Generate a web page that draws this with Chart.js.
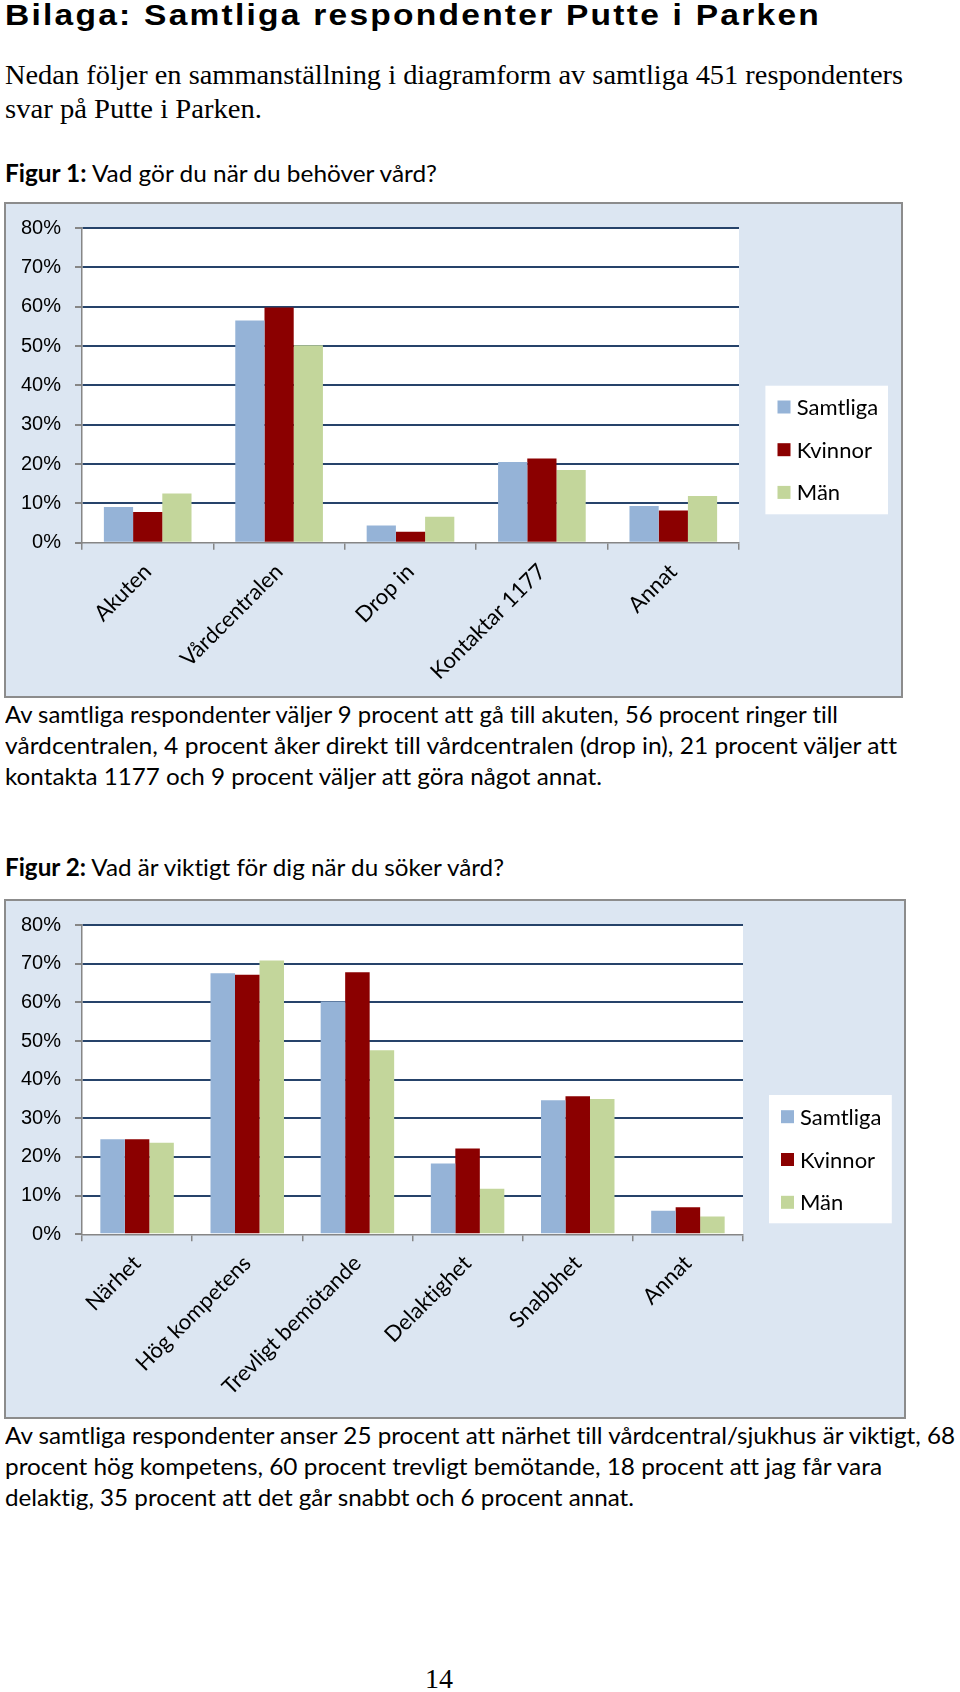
<!DOCTYPE html>
<html>
<head>
<meta charset="utf-8">
<script src="https://cdn.jsdelivr.net/npm/chart.js"></script>
<style>
body { margin:0; background:#fff; width:960px; height:1692px; position:relative; overflow:hidden; font-variant-ligatures:none; }
.t { position:absolute; left:5px; white-space:nowrap; transform-origin:0 0; color:#000; }
.title { font-family:"Liberation Sans"; font-weight:bold; font-size:30px; line-height:30px; letter-spacing:2px; }
.serif { font-family:"Liberation Serif"; font-size:28px; line-height:28px; }
.cal { font-family:Lato; font-size:24px; line-height:24px; }
.frame { position:absolute; background:#DCE6F2; border:2px solid #8c8c8c; box-sizing:border-box; }
canvas { position:absolute; }
</style>
</head>
<body>

<div class="t title" data-w="816" style="top:0px">Bilaga: Samtliga respondenter Putte i Parken</div>
<div class="t serif" data-w="898" style="top:61px">Nedan följer en sammanställning i diagramform av samtliga 451 respondenters</div>
<div class="t serif" data-w="257" style="top:95px">svar på Putte i Parken.</div>
<div class="t cal" data-w="432" style="top:161px"><b>Figur 1:</b> Vad gör du när du behöver vård?</div>

<div class="frame" style="left:4px;top:202px;width:899px;height:496px"></div>
<canvas id="chart1" width="899" height="496" style="left:4px;top:202px"></canvas>

<div class="t cal" data-w="833" style="top:702px">Av samtliga respondenter väljer 9 procent att gå till akuten, 56 procent ringer till</div>
<div class="t cal" data-w="892" style="top:733px">vårdcentralen, 4 procent åker direkt till vårdcentralen (drop in), 21 procent väljer att</div>
<div class="t cal" data-w="597" style="top:764px">kontakta 1177 och 9 procent väljer att göra något annat.</div>

<div class="t cal" data-w="499" style="top:855px"><b>Figur 2:</b> Vad är viktigt för dig när du söker vård?</div>

<div class="frame" style="left:4px;top:899px;width:902px;height:520px"></div>
<canvas id="chart2" width="902" height="520" style="left:4px;top:899px"></canvas>

<div class="t cal" data-w="950" style="top:1423px">Av samtliga respondenter anser 25 procent att närhet till vårdcentral/sjukhus är viktigt, 68</div>
<div class="t cal" data-w="877" style="top:1454px">procent hög kompetens, 60 procent trevligt bemötande, 18 procent att jag får vara</div>
<div class="t cal" data-w="629" style="top:1485px">delaktig, 35 procent att det går snabbt och 6 procent annat.</div>

<div class="t serif" style="top:1665px;left:425px">14</div>

<script>
// figur 1
var categories1 = ['Akuten', 'Vårdcentralen', 'Drop in', 'Kontaktar 1177', 'Annat']
var samtliga1 = [9.1, 56.5, 4.4, 20.5, 9.3]
var kvinnor1 = [7.8, 59.8, 2.8, 21.4, 8.2]
var man1 = [12.5, 50.2, 6.6, 18.5, 11.9]

// figur 2
var categories2 = ['Närhet', 'Hög kompetens', 'Trevligt bemötande', 'Delaktighet', 'Snabbhet', 'Annat']
var samtliga2 = [24.6, 67.5, 60.2, 18.3, 34.7, 6.1]
var kvinnor2 = [24.6, 67.1, 67.8, 22.2, 35.7, 7.0]
var man2 = [23.7, 70.8, 47.6, 11.8, 35.0, 4.6]

var seriesNames = ['Samtliga', 'Kvinnor', 'Män']
var seriesColors = ['#95B3D7', '#8B0000', '#C3D69B']
var yTicks = [0, 10, 20, 30, 40, 50, 60, 70, 80]

var gridBlue = '#26436a'
var axisGray = '#868686'

// squeeze each text line to the width it has in the picture
document.querySelectorAll('.t[data-w]').forEach(el => {
    var w = el.getBoundingClientRect().width
    el.style.transform = 'scaleX(' + (el.dataset.w / w) + ')'
})

var plotBg = {
    id: 'plotBg',
    beforeDraw(chart) {
        var a = chart.chartArea
        chart.ctx.save()
        chart.ctx.fillStyle = '#fff'
        chart.ctx.fillRect(a.left, a.top, a.right - a.left, a.bottom - a.top)
        chart.ctx.restore()
    }
}

// legend box like the excel one, to the right of the plot
var sideLegend = {
    id: 'sideLegend',
    afterDraw(chart, args, o) {
        var ctx = chart.ctx
        ctx.save()
        ctx.fillStyle = '#fff'
        ctx.fillRect(o.x, o.y, o.w, o.h)
        ctx.font = '22px Lato'
        ctx.textBaseline = 'middle'
        chart.data.datasets.forEach((ds, i) => {
            var cy = o.y0 + i * o.gap
            ctx.fillStyle = ds.backgroundColor
            ctx.fillRect(o.sx, cy - 6.5, 13, 13)
            ctx.fillStyle = '#000'
            ctx.fillText(ds.label, o.tx, cy + 1)
        })
        ctx.restore()
    }
}

function makeChart(id, labels, values, geo){
    var ctx = document.getElementById(id).getContext('2d')
    return new Chart(ctx, {
        type: 'bar',
        data: {
            labels: labels,
            datasets: values.map((v, i) => ({
                label: seriesNames[i],
                data: v,
                backgroundColor: seriesColors[i],
                borderWidth: 0,
                categoryPercentage: 0.667,
                barPercentage: 1
            }))
        },
        options: {
            responsive: false,
            animation: false,
            layout: { padding: { top: geo.top, right: geo.right, left: 0, bottom: 0 } },
            plugins: {
                legend: { display: false },
                tooltip: { enabled: false },
                sideLegend: geo.legend
            },
            scales: {
                x: {
                    afterFit: s => { s.height = geo.xh },
                    grid: { offset: true, drawOnChartArea: false, tickLength: 7, tickColor: axisGray, lineWidth: 1.5 },
                    border: { color: axisGray, width: 1.5 },
                    ticks: { minRotation: 45, maxRotation: 45, color: '#000', padding: 9, font: { family: 'Lato', size: 22 } }
                },
                y: {
                    min: 0,
                    max: 80,
                    afterFit: s => { s.width = 78 },
                    afterBuildTicks: s => { s.ticks = yTicks.map(v => ({ value: v })) },
                    grid: {
                        color: c => c.tick && c.tick.value === 0 ? 'rgba(0,0,0,0)' : gridBlue,
                        lineWidth: 2,
                        tickLength: 7,
                        tickColor: axisGray
                    },
                    border: { color: axisGray, width: 1.5 },
                    ticks: { color: '#000', padding: 14, font: { family: 'Liberation Sans', size: 20 }, callback: v => v + '%' }
                }
            }
        },
        plugins: [plotBg, sideLegend]
    })
}

makeChart('chart1', categories1, [samtliga1, kvinnor1, man1], {
    top: 25.7, right: 164, xh: 155.3,
    legend: { x: 761.4, y: 183.7, w: 122.6, h: 128.6, sx: 773.5, tx: 792.8, y0: 205, gap: 42.7 }
})

makeChart('chart2', categories2, [samtliga2, kvinnor2, man2], {
    top: 26, right: 163, xh: 184.7,
    legend: { x: 765, y: 196, w: 122.8, h: 128.3, sx: 777, tx: 796, y0: 217.7, gap: 42.8 }
})
</script>
</body>
</html>
